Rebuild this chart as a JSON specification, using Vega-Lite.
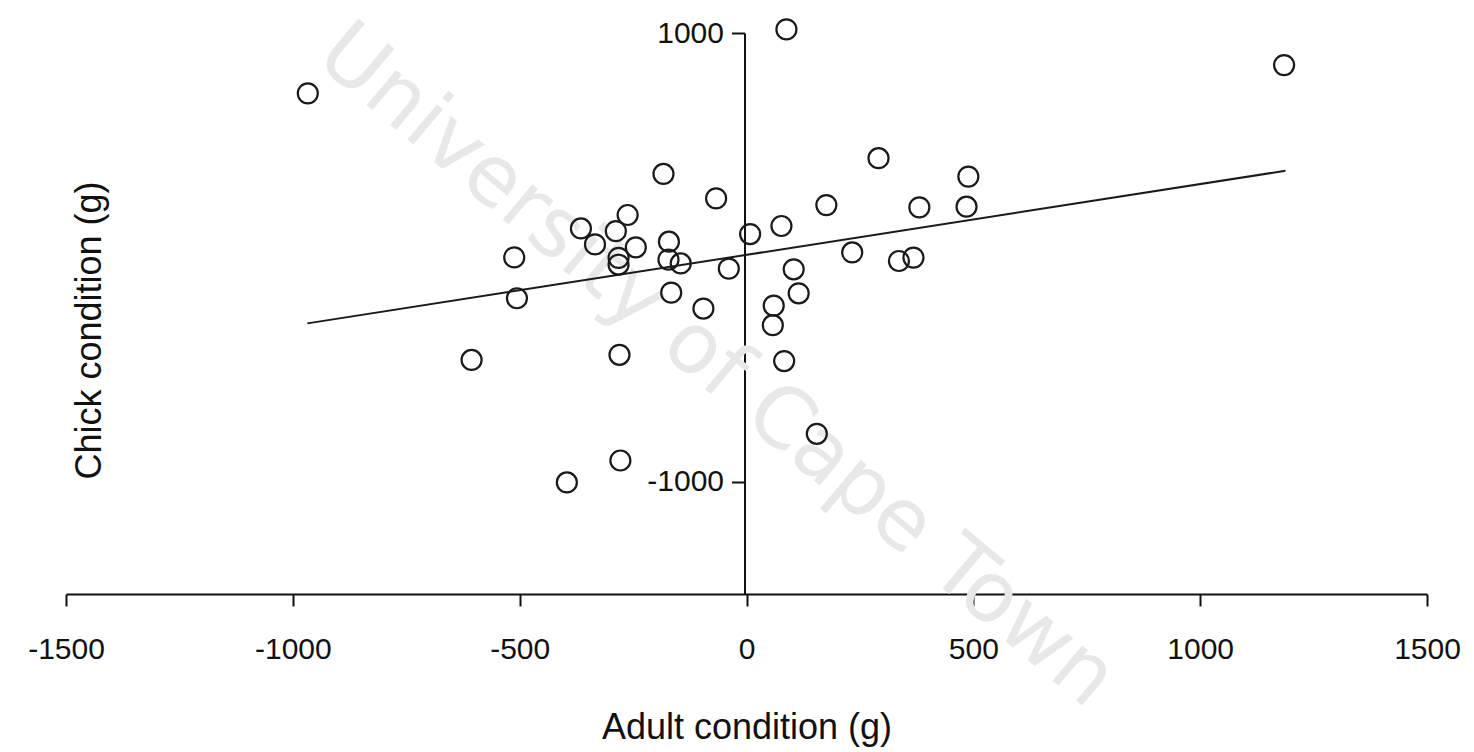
{
  "$schema": "https://vega.github.io/schema/vega-lite/v6.json",
  "width": 1361,
  "height": 561,
  "autosize": {"type": "none"},
  "padding": {"left": 66, "top": 33, "right": 47, "bottom": 158},
  "background": "white",
  "config": {
    "view": {"stroke": null},
    "font": "Liberation Sans",
    "axis": {
      "domainColor": "#111111",
      "tickColor": "#111111",
      "labelColor": "#111111",
      "titleColor": "#111111",
      "domainWidth": 2,
      "tickWidth": 2,
      "grid": false,
      "labelFont": "Liberation Sans",
      "titleFont": "Liberation Sans",
      "labelFontSize": 30,
      "titleFontSize": 36,
      "titleFontWeight": "normal",
      "labelFlush": false,
      "labelOverlap": false
    }
  },
  "datasets": {
    "points": [
      {"x": -967, "y": 731},
      {"x": 88, "y": 1016},
      {"x": 1185, "y": 857},
      {"x": -183, "y": 372},
      {"x": -67, "y": 263},
      {"x": -262, "y": 189},
      {"x": -365, "y": 129},
      {"x": -288, "y": 117},
      {"x": -334, "y": 58},
      {"x": -244, "y": 45},
      {"x": -171, "y": 70},
      {"x": -282, "y": -2},
      {"x": -282, "y": -32},
      {"x": -172, "y": -10},
      {"x": -145, "y": -27},
      {"x": -39, "y": -50},
      {"x": -512, "y": 0},
      {"x": -506, "y": -182},
      {"x": -166, "y": -157},
      {"x": -95, "y": -228},
      {"x": -606, "y": -457},
      {"x": -280, "y": -434},
      {"x": 8, "y": 104},
      {"x": 291, "y": 442},
      {"x": 489, "y": 360},
      {"x": 176, "y": 233},
      {"x": 381, "y": 223},
      {"x": 485, "y": 226},
      {"x": 77, "y": 140},
      {"x": 233, "y": 22},
      {"x": 368, "y": -1},
      {"x": 336, "y": -16},
      {"x": 104, "y": -53},
      {"x": 115, "y": -160},
      {"x": 60, "y": -215},
      {"x": 58, "y": -302},
      {"x": 83, "y": -462},
      {"x": 155, "y": -786},
      {"x": -278, "y": -905},
      {"x": -396, "y": -1003}
    ],
    "fit": [
      {"x": -968, "y": -294},
      {"x": 1188, "y": 386}
    ],
    "wm": [
      {"x": -66, "y": -485, "label": "University of Cape Town"}
    ]
  },
  "encoding": {
    "x": {
      "field": "x",
      "type": "quantitative",
      "scale": {"domain": [-1500, 1500], "nice": false, "zero": false},
      "axis": {
        "orient": "bottom",
        "values": [-1500, -1000, -500, 0, 500, 1000, 1500],
        "labelExpr": "'' + datum.value",
        "tickSize": 12,
        "labelPadding": 28,
        "title": "Adult condition (g)",
        "titleBaseline": "alphabetic",
        "titleY": 144
      }
    },
    "y": {
      "field": "y",
      "type": "quantitative",
      "scale": {"domain": [-1500, 1000], "nice": false, "zero": false},
      "axis": {
        "orient": "left",
        "offset": -678.5,
        "values": [-1000, 1000],
        "labelExpr": "'' + datum.value",
        "tickSize": 13,
        "labelPadding": 8,
        "title": "Chick condition (g)",
        "titleAngle": -90,
        "titleAlign": "center",
        "titleBaseline": "alphabetic",
        "titleX": -644,
        "titleY": 297
      }
    }
  },
  "layer": [
    {
      "data": {"name": "wm"},
      "mark": {"type": "text", "angle": 40, "fontSize": 84, "font": "DejaVu Sans", "color": "#e8e8e8", "align": "center", "baseline": "middle"},
      "encoding": {"text": {"field": "label"}}
    },
    {
      "data": {"name": "fit"},
      "mark": {"type": "line", "color": "#1a1a1a", "strokeWidth": 2}
    },
    {
      "data": {"name": "points"},
      "mark": {"type": "point", "shape": "circle", "filled": false, "size": 400, "strokeWidth": 2.2, "color": "#1a1a1a", "opacity": 1}
    }
  ]
}
